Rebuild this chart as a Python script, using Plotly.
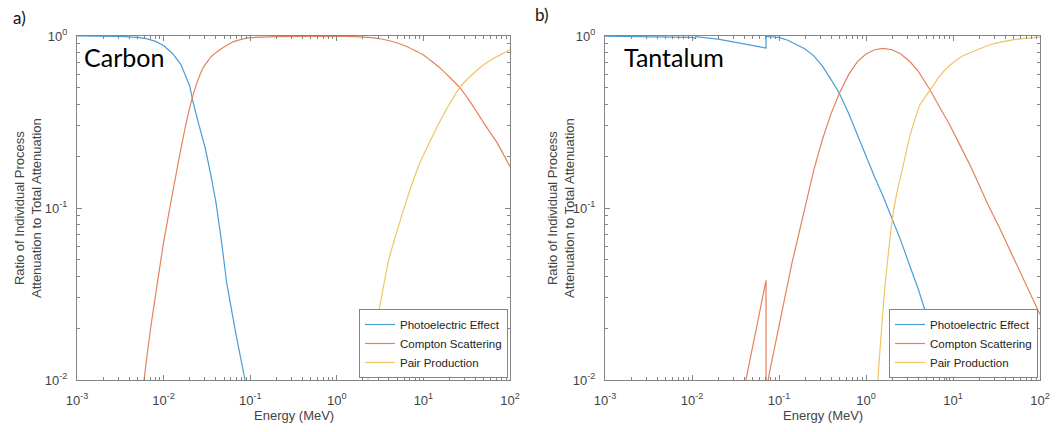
import plotly.graph_objects as go

# ---------------- data (energy in MeV, ratio of attenuation) ----------------
# Carbon
c_pe_E = [0.001, 0.00316, 0.00501, 0.00631, 0.00794, 0.01, 0.0126, 0.0158, 0.020, 0.0219, 0.0251,
          0.0302, 0.0355, 0.0403, 0.0468, 0.0537, 0.0676, 0.0871, 0.1]
c_pe_R = [1.0, 0.995, 0.982, 0.966, 0.933, 0.881, 0.794, 0.684, 0.513, 0.413, 0.316,
          0.224, 0.151, 0.107, 0.0631, 0.0363, 0.0191, 0.01, 0.0063]

c_co_E = [0.00501, 0.00594, 0.00708, 0.00839, 0.01, 0.0126, 0.0155, 0.0178, 0.0202, 0.024, 0.0285,
          0.0355, 0.0447, 0.0631, 0.0912, 0.2, 1.0, 1.585, 2.24, 3.16, 4.07, 6.31, 10.0, 15.85,
          26.3, 35.5, 49.0, 70.8, 100.0]
c_co_R = [0.0040, 0.01, 0.0200, 0.0355, 0.0631, 0.120, 0.209, 0.295, 0.389, 0.525, 0.652,
          0.759, 0.832, 0.923, 0.973, 0.991, 0.995, 0.991, 0.982, 0.964, 0.938, 0.871, 0.776, 0.646,
          0.501, 0.407, 0.316, 0.240, 0.174]

c_pp_E = [2.0, 2.29, 2.82, 3.98, 6.17, 8.91, 12.9, 17.8, 26.3, 35.5, 49.0, 70.8, 100.0]
c_pp_R = [0.004, 0.01, 0.02, 0.05, 0.105, 0.178, 0.265, 0.363, 0.501, 0.589, 0.676, 0.759, 0.832]

# Tantalum
t_pe_E = [0.001, 0.00316, 0.01, 0.01096, 0.011, 0.01995, 0.0355, 0.0501, 0.071, 0.07101,
          0.1, 0.126, 0.162, 0.1995, 0.251, 0.316, 0.398, 0.49, 0.631, 0.794, 1.0, 1.259, 1.585,
          1.995, 2.512, 3.206, 3.981, 5.012, 6.31, 8.51, 10.0]
t_pe_R = [0.998, 0.993, 0.982, 0.968, 0.991, 0.959, 0.912, 0.881, 0.851, 0.993,
          0.982, 0.944, 0.891, 0.841, 0.767, 0.668, 0.556, 0.468, 0.355, 0.266, 0.1995, 0.151, 0.116,
          0.0871, 0.0646, 0.0457, 0.0339, 0.0234, 0.0166, 0.01, 0.0079]

t_co_E = [0.0316, 0.0417, 0.0468, 0.0562, 0.071, 0.07101, 0.0789, 0.141, 0.1995, 0.251, 0.316,
          0.398, 0.501, 0.631, 0.794, 1.0, 1.259, 1.567, 1.995, 2.512, 3.206, 3.981, 5.445, 7.079,
          9.247, 12.02, 15.67, 19.95, 25.12, 33.88, 45.19, 63.1, 100.0]
t_co_R = [0.005, 0.01, 0.0132, 0.0209, 0.038, 0.0085, 0.0115, 0.0479, 0.102, 0.166, 0.251,
          0.355, 0.473, 0.596, 0.708, 0.785, 0.832, 0.847, 0.832, 0.785, 0.708, 0.624, 0.485, 0.385,
          0.302, 0.232, 0.178, 0.136, 0.105, 0.0776, 0.057, 0.0398, 0.024]

t_pp_E = [1.26, 1.37, 1.51, 1.66, 1.82, 2.0, 2.29, 2.63, 3.21, 4.17, 5.45, 7.08, 9.25, 12.6, 19.1,
          28.2, 45.2, 70.8, 100.0]
t_pp_R = [0.004, 0.01, 0.02, 0.0363, 0.0562, 0.0851, 0.126, 0.17, 0.265, 0.398, 0.485, 0.589,
          0.676, 0.759, 0.832, 0.896, 0.944, 0.973, 0.986]

series_names = ["Photoelectric Effect", "Compton Scattering", "Pair Production"]
panel_labels = ["a)", "b)"]
element_names = ["Carbon", "Tantalum"]
x_title = "Energy (MeV)"
y_title = "Ratio of Individual Process<br>Attenuation to Total Attenuation"
x_tickvals = [0.001, 0.01, 0.1, 1, 10, 100]
x_ticktext = ["10<sup>-3</sup>", "10<sup>-2</sup>", "10<sup>-1</sup>", "10<sup>0</sup>", "10<sup>1</sup>", "10<sup>2</sup>"]
y_tickvals = [0.01, 0.1, 1]
y_ticktext = ["10<sup>-2</sup>", "10<sup>-1</sup>", "10<sup>0</sup>"]

# ---------------- styling ----------------
W, H = 1058, 432
colors = ["#4A9DD6", "#E4825C", "#F0C462"]
axis_col = "#858585"
text_col = "#444444"
FONT = "Liberation Sans, Arial"


def X(px):
    return px / W


def Y(py):
    return 1 - py / H


fig = go.Figure()
panels = [
    ("x", "y", "legend", [(c_pe_E, c_pe_R, "linear"), (c_co_E, c_co_R, "spline"), (c_pp_E, c_pp_R, "spline")]),
    ("x2", "y2", "legend2", [(t_pe_E, t_pe_R, "linear"), (t_co_E, t_co_R, "linear"), (t_pp_E, t_pp_R, "spline")]),
]
for xa, ya, lg, data in panels:
    for (e, r, shp), name, col in zip(data, series_names, colors):
        fig.add_trace(go.Scatter(x=e, y=r, mode="lines", name=name, xaxis=xa, yaxis=ya,
                                 legend=lg, line=dict(color=col, width=1.2, shape=shp, smoothing=0.4)))

minor_vals = [k * 10 ** n for n in range(-3, 2) for k in range(2, 10)]
minor_y = [k * 10 ** n for n in range(-2, 0) for k in range(2, 10)]

common_x = dict(type="log", range=[-3, 2], tickvals=x_tickvals, ticktext=x_ticktext, showgrid=False,
                zeroline=False, showline=True, linecolor=axis_col, linewidth=1, mirror="allticks",
                ticks="inside", ticklen=5, tickcolor=axis_col, ticklabelstandoff=8,
                minor=dict(ticks="inside", ticklen=3, tickcolor=axis_col, tickvals=minor_vals, showgrid=False),
                tickfont=dict(family=FONT, size=13, color=text_col),
                automargin=False, fixedrange=True)
common_y = dict(type="log", range=[-2, 0], tickvals=y_tickvals, ticktext=y_ticktext, showgrid=False,
                zeroline=False, showline=True, linecolor=axis_col, linewidth=1, mirror="allticks",
                ticks="inside", ticklen=5, tickcolor=axis_col, ticklabelstandoff=6,
                minor=dict(ticks="inside", ticklen=3, tickcolor=axis_col, tickvals=minor_y, showgrid=False),
                tickfont=dict(family=FONT, size=13, color=text_col),
                automargin=False, fixedrange=True)

yd = [Y(380), Y(36)]
leg_common = dict(xanchor="right", yanchor="bottom", bgcolor="white", bordercolor=axis_col,
                  borderwidth=1, tracegroupgap=0, font=dict(family=FONT, size=11.5, color="#222"))
fig.update_layout(
    width=W, height=H, margin=dict(l=0, r=0, t=0, b=0),
    paper_bgcolor="white", plot_bgcolor="white",
    xaxis=dict(common_x, domain=[X(77), X(510)], anchor="y"),
    yaxis=dict(common_y, domain=yd, anchor="x"),
    xaxis2=dict(common_x, domain=[X(605), X(1040)], anchor="y2"),
    yaxis2=dict(common_y, domain=yd, anchor="x2"),
    legend=dict(leg_common, x=X(508), y=Y(378)),
    legend2=dict(leg_common, x=X(1038), y=Y(378)),
    showlegend=True,
)

ann = []
for lbl, px, py in zip(panel_labels, [19, 542], [18, 15]):
    ann.append(dict(text=lbl, x=X(px), y=Y(py), xref="paper", yref="paper", showarrow=False,
                    xanchor="center", yanchor="middle",
                    font=dict(family="Lato, Open Sans", size=17, color="#111")))
for nm, px in zip(element_names, [82, 622]):
    ann.append(dict(text=nm, x=X(px), y=Y(57), xref="paper", yref="paper", showarrow=False,
                    xanchor="left", yanchor="middle",
                    font=dict(family="Lato, Open Sans", size=25, color="#000")))
for cx in [(77 + 510) / 2, (605 + 1040) / 2]:
    ann.append(dict(text=x_title, x=X(cx), y=Y(415), xref="paper", yref="paper", showarrow=False,
                    xanchor="center", yanchor="middle",
                    font=dict(family=FONT, size=13, color=text_col)))
for cx in [28, 561]:
    ann.append(dict(text=y_title, x=X(cx), y=Y(208), xref="paper", yref="paper", showarrow=False,
                    xanchor="center", yanchor="middle",
                    textangle=-90, font=dict(family=FONT, size=13, color=text_col)))
fig.update_layout(annotations=ann)

fig.write_html("out.html")
